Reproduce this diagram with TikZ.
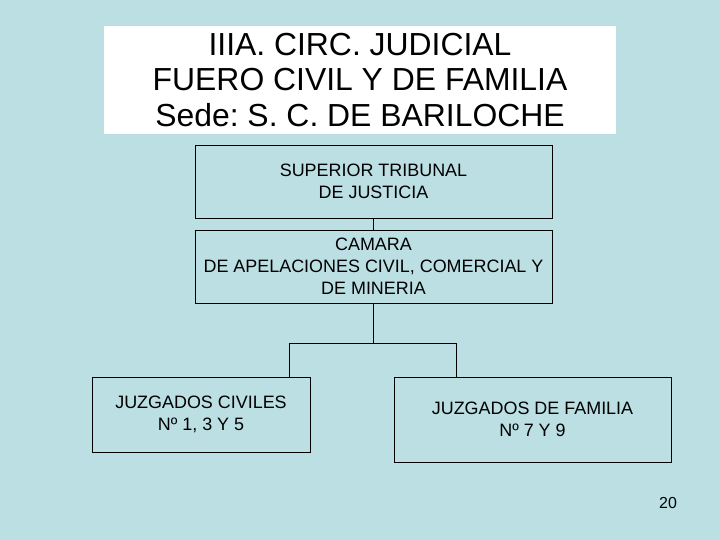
\documentclass[tikz,border=0pt]{standalone}
\usepackage{fontspec}
\setmainfont{Liberation Sans}
\usepackage{xcolor}
\usetikzlibrary{positioning}
\definecolor{slideBg}{HTML}{BBDFE3}
\frenchspacing

\begin{document}
\begin{tikzpicture}[
  x=1bp,y=-1bp,
  box/.style={draw=black,line width=0.8bp,align=center,inner sep=0pt,font=\fontsize{18}{22}\selectfont},
  link/.style={draw=black,line width=0.8bp}
]
\fill[slideBg] (0,0) rectangle (720,540);
\node[fill=white,inner sep=0pt,minimum width=512bp,minimum height=108bp,align=center,font=\fontsize{32}{35.5}\selectfont] (title) at (360,80) {IIIA. CIRC. JUDICIAL\\FUERO CIVIL Y DE FAMILIA\\Sede: S. C. DE BARILOCHE};
\node[box,minimum width=357bp,minimum height=73bp] (sup) at (373.5,181.5) {SUPERIOR TRIBUNAL\\DE JUSTICIA};
\node[box,minimum width=357bp,minimum height=73bp] (cam) at (373.5,266.5) {CAMARA\\DE APELACIONES CIVIL, COMERCIAL Y\\DE MINERIA};
\node[box,minimum width=218bp,minimum height=75bp] (civ) at (201,414.5) {JUZGADOS CIVILES\\Nº 1, 3 Y 5};
\node[box,minimum width=277bp,minimum height=85bp] (fam) at (532.5,419.5) {JUZGADOS DE FAMILIA\\Nº 7 Y 9};
\coordinate (split) at (373.5,343);
\coordinate (civtop) at (289,377);
\coordinate (famtop) at (456,377);
\draw[link] (sup) -- (cam);
\draw[link] (cam) -- (split);
\draw[link] (split) -| (civtop);
\draw[link] (split) -| (famtop);
\node[font=\fontsize{16}{18}\selectfont] (pagenum) at (668,503) {20};
\end{tikzpicture}
\end{document}
